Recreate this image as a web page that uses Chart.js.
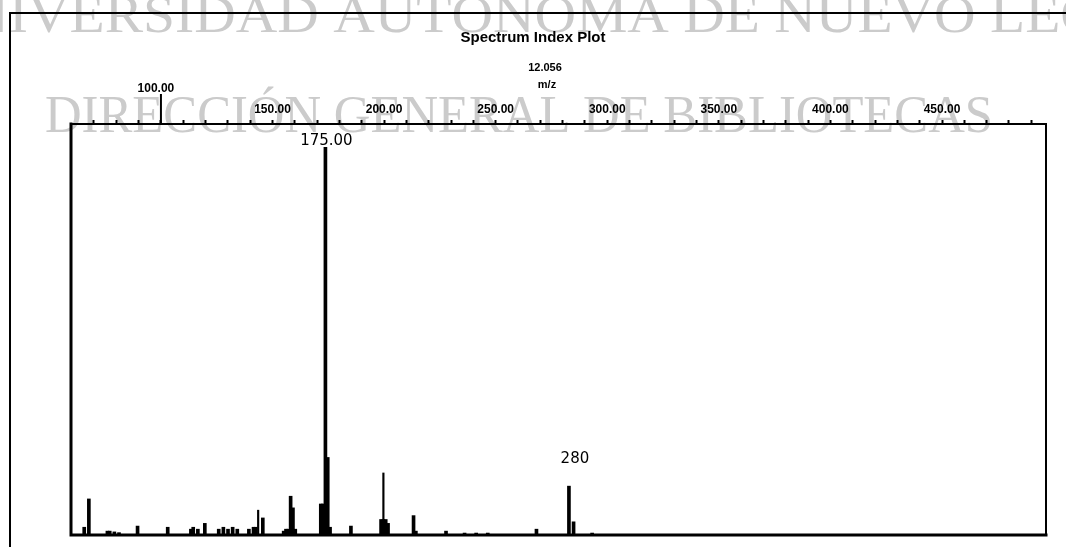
<!DOCTYPE html>
<html>
<head>
<meta charset="utf-8">
<title>Spectrum Index Plot</title>
<script src="https://cdn.jsdelivr.net/npm/chart.js@4.4.1/dist/chart.umd.min.js"></script>
<style>
  html, body { margin: 0; padding: 0; background: #fff; }
  #wrap { width: 1066px; height: 547px; position: relative; }
</style>
</head>
<body>
<div id="wrap"><canvas id="spectrum"></canvas></div>
<script>
// Ion m/z values and their relative abundance (%)
const mzValues = [71, 73, 81, 82, 84, 86, 94, 107, 117, 118, 120, 123, 129, 131, 133, 135, 137,
    142, 144, 145, 148, 157, 158, 159, 160, 161, 162, 173, 174, 175, 176, 177, 186,
    199, 200, 201, 202, 213, 214, 227, 235, 240, 245, 266, 280, 282, 290];
const abundance = [2, 9.3, 1, 1, 0.8, 0.6, 2.3, 2, 1.5, 2, 1.5, 3, 1.5, 2, 1.5, 2, 1.5,
    1.5, 2, 2, 4.4, 1, 1.5, 1.5, 10, 7, 1.5, 8, 8, 100, 20, 2, 2.3,
    4, 4, 4, 3, 5, 1, 1, 0.5, 0.5, 0.5, 1.5, 12.6, 3.4, 0.5];

// Narrow spikes drawn as hairlines
const sharpMz = [146, 200];
const sharpAbundance = [6.4, 16];

// Labelled peaks
const peakLabelMz = [175, 280];
const peakLabelText = ['175.00', '280'];

// Labelled values on the top m/z axis
const axisLabelValues = [100, 150, 200, 250, 300, 350, 400, 450];

const titleLines = ['Spectrum Index Plot', '12.056', 'm/z'];
const watermarkLines = ['UNIVERSIDAD AUTÓNOMA DE NUEVO LEÓN', 'DIRECCIÓN GENERAL DE BIBLIOTECAS'];

const points = mzValues.map((mz, i) => ({ x: mz, y: abundance[i] }));
const sharpPoints = sharpMz.map((mz, i) => ({ x: mz, y: sharpAbundance[i] }));

// Library stamp behind the plot
const watermark = {
    id: 'watermark',
    beforeDraw(chart) {
        const ctx = chart.ctx;
        ctx.save();
        ctx.fillStyle = '#cbcbcb';
        ctx.textBaseline = 'alphabetic';
        ctx.font = '52px "Liberation Serif"';

        // first line runs off both edges
        const l1 = watermarkLines[0];
        const wV = ctx.measureText('UNI').width;
        const wL = ctx.measureText('UNIVERSIDAD AUTÓNOMA DE NUEVO ').width;
        const sx1 = (990 - 28) / (wL - wV);
        ctx.save();
        ctx.translate(28 - sx1 * wV, 32);
        ctx.scale(sx1, 1);
        ctx.fillText(l1, 0, 0);
        ctx.restore();

        const l2 = watermarkLines[1];
        const w2 = ctx.measureText(l2).width;
        ctx.save();
        ctx.translate(45, 132);
        ctx.scale(948 / w2, 1);
        ctx.fillText(l2, 0, 0);
        ctx.restore();
        ctx.restore();
    }
};

// Frames, titles and peak annotations
const decorations = {
    id: 'decorations',
    afterDraw(chart) {
        const ctx = chart.ctx;
        const a = chart.chartArea;
        const xs = chart.scales.x;
        const ys = chart.scales.y;
        const top = chart.scales.x2;
        ctx.save();
        ctx.strokeStyle = '#000';
        ctx.lineCap = 'square';

        // outer page frame
        ctx.lineWidth = 2;
        ctx.beginPath();
        ctx.moveTo(10, 547);
        ctx.lineTo(10, 13);
        ctx.lineTo(1066, 13);
        ctx.stroke();

        // plot box
        ctx.lineWidth = 3;
        ctx.beginPath();
        ctx.moveTo(a.left, a.top);
        ctx.lineTo(a.left, a.bottom);
        ctx.lineTo(a.right, a.bottom);
        ctx.stroke();
        ctx.lineWidth = 2;
        ctx.beginPath();
        ctx.moveTo(a.left, a.top);
        ctx.lineTo(a.right, a.top);
        ctx.lineTo(a.right, a.bottom);
        ctx.stroke();

        // titles
        ctx.fillStyle = '#000';
        ctx.textAlign = 'center';
        ctx.textBaseline = 'middle';
        ctx.font = 'bold 15px "Liberation Sans"';
        ctx.fillText(titleLines[0], 533, 38);
        ctx.font = 'bold 11px "Liberation Sans"';
        ctx.fillText(titleLines[1], 545, 68);
        ctx.fillText(titleLines[2], 547, 85);

        // raised mark for the first axis label
        const x100 = top.getPixelForValue(axisLabelValues[0]);
        ctx.lineWidth = 2;
        ctx.beginPath();
        ctx.moveTo(x100, a.top);
        ctx.lineTo(x100, 95);
        ctx.stroke();
        ctx.font = 'bold 12px "Liberation Sans"';
        ctx.fillText(axisLabelValues[0].toFixed(2), x100 - 5, 89);

        // peak labels
        const gaps = [2, 23];
        ctx.font = '15px "DejaVu Sans"';
        ctx.textBaseline = 'alphabetic';
        peakLabelMz.forEach((mz, i) => {
            const idx = mzValues.indexOf(mz);
            const px = xs.getPixelForValue(mz);
            const py = ys.getPixelForValue(abundance[idx]);
            ctx.fillText(peakLabelText[i], px + (i ? 6 : 1), py - gaps[i]);
        });
        ctx.restore();
    }
};

const ctx = document.getElementById('spectrum').getContext('2d');
const spectrumChart = new Chart(ctx, {
    type: 'bar',
    data: {
        datasets: [{
            label: 'Abundance',
            data: points,
            backgroundColor: '#000',
            borderWidth: 0,
            barThickness: 3,
            grouped: false,
            xAxisID: 'x',
            yAxisID: 'y'
        }, {
            label: 'Spikes',
            data: sharpPoints,
            backgroundColor: '#000',
            borderWidth: 0,
            barThickness: 1.5,
            grouped: false,
            xAxisID: 'x',
            yAxisID: 'y'
        }]
    },
    options: {
        responsive: true,
        maintainAspectRatio: false,
        animation: false,
        layout: { padding: { left: 71, right: 20, top: 94, bottom: 12 } },
        plugins: {
            legend: { display: false },
            title: { display: false },
            tooltip: { enabled: false }
        },
        scales: {
            x: {
                type: 'linear',
                display: false,
                min: 65.3,
                max: 485.7,
                offset: false
            },
            x2: {
                type: 'linear',
                position: 'top',
                min: 59.7,
                max: 496.6,
                offset: false,
                border: { display: false },
                grid: {
                    drawOnChartArea: false,
                    drawTicks: true,
                    offset: false,
                    tickLength: 4,
                    tickWidth: 2,
                    tickColor: '#000'
                },
                afterBuildTicks(scale) {
                    const t = [];
                    for (let v = 70; v <= 490; v += 10) t.push({ value: v });
                    scale.ticks = t;
                },
                afterFit(scale) { scale.height = 30; },
                ticks: {
                    autoSkip: false,
                    maxRotation: 0,
                    padding: 3,
                    color: '#000',
                    font: { family: 'Liberation Sans', size: 12, weight: 'bold' },
                    callback: (v) => (axisLabelValues.includes(v) && v !== axisLabelValues[0]) ? v.toFixed(2) : ''
                }
            },
            y: {
                display: false,
                min: 0,
                max: 106
            }
        }
    },
    plugins: [watermark, decorations]
});
</script>
</body>
</html>
